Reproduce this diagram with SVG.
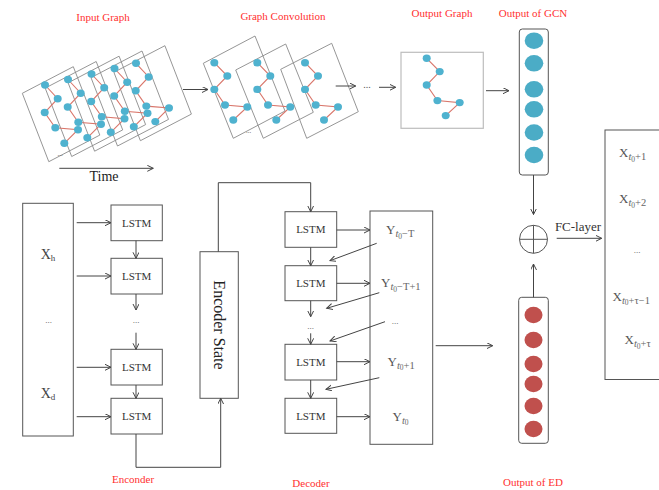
<svg xmlns="http://www.w3.org/2000/svg" width="659" height="490" viewBox="0 0 659 490">
<defs>
<style>
text{font-family:"Liberation Serif","DejaVu Serif",serif;}
.lbl{fill:#ff3030;font-size:11px;text-anchor:middle;}
.frame{fill:none;stroke:#8a8a8a;stroke-width:0.9;}
.edge{fill:none;stroke:#d9766b;stroke-width:1.1;}
.gn{fill:#4fb2cf;}
.box{fill:#fff;stroke:#555;stroke-width:1;}
.conn{fill:none;stroke:#444;stroke-width:1;}
.lstm{font-size:11px;fill:#333;text-anchor:middle;}
.var{font-size:14px;fill:#444;text-anchor:middle;}
.sub{font-size:10.5px;fill:#666;}
.bc{fill:#4bacc6;}
.rc{fill:#c0504d;}
.dots{font-size:9px;fill:#555;text-anchor:middle;}
</style>
<marker id="arr" markerWidth="8" markerHeight="8" refX="6" refY="3" orient="auto" markerUnits="userSpaceOnUse">
<path d="M0,0 L6,3 L0,6" fill="none" stroke="#444" stroke-width="1"/>
</marker>
<g id="ig">
<polyline class="edge" points="0,0 12.7,13.7 -0.3,27.5 10.3,42.8 33,44.7 19.3,58.3"/>
<ellipse class="gn" cx="0" cy="0" rx="4" ry="3.7"/>
<ellipse class="gn" cx="12.7" cy="13.7" rx="4" ry="3.7"/>
<ellipse class="gn" cx="-0.3" cy="27.5" rx="4" ry="3.7"/>
<ellipse class="gn" cx="10.3" cy="42.8" rx="4" ry="3.7"/>
<ellipse class="gn" cx="33" cy="44.7" rx="4" ry="3.7"/>
<ellipse class="gn" cx="19.3" cy="58.3" rx="4" ry="3.7"/>
</g>
<g id="gg">
<polyline class="edge" points="0,0 13,13.3 0,26.7 10.7,42.3 33,44.3 19,57.3"/>
<ellipse class="gn" cx="0" cy="0" rx="4" ry="3.7"/>
<ellipse class="gn" cx="13" cy="13.3" rx="4" ry="3.7"/>
<ellipse class="gn" cx="0" cy="26.7" rx="4" ry="3.7"/>
<ellipse class="gn" cx="10.7" cy="42.3" rx="4" ry="3.7"/>
<ellipse class="gn" cx="33" cy="44.3" rx="4" ry="3.7"/>
<ellipse class="gn" cx="19" cy="57.3" rx="4" ry="3.7"/>
</g>
</defs>
<rect width="659" height="490" fill="#fff"/>

<!-- labels -->
<g id="labels">
<text class="lbl" x="103" y="21">Input Graph</text>
<text class="lbl" x="283" y="19.5">Graph Convolution</text>
<text class="lbl" x="442" y="17">Output Graph</text>
<text class="lbl" x="533" y="17">Output of GCN</text>
<text class="lbl" x="133" y="483">Enconder</text>
<text class="lbl" x="311" y="487">Decoder</text>
<text class="lbl" x="533" y="486">Output of ED</text>
</g>

<!-- Input graph -->
<g id="input-graph">
<polygon class="frame" points="22.3,93.3 73.3,66.7 99.8,135.1 48.8,161.7"/>
<polygon class="frame" points="45.2,88.1 96.2,61.5 122.7,129.9 71.7,156.5"/>
<polygon class="frame" points="68.1,82.8 119.1,56.2 145.6,124.6 94.6,151.2"/>
<polygon class="frame" points="91,77.6 142,51 168.5,119.4 117.5,146"/>
<polygon class="frame" points="113.9,72.3 164.9,45.7 191.4,114.1 140.4,140.7"/>
<use href="#ig" x="45" y="85"/>
<use href="#ig" x="68" y="79.5"/>
<use href="#ig" x="91.5" y="74"/>
<use href="#ig" x="114.5" y="68.5"/>
<use href="#ig" x="136" y="63.3"/>
<text class="dots" x="60" y="156" style="font-size:7px">...</text>
<text x="104" y="180.5" style="font-size:14px;fill:#222;text-anchor:middle">Time</text>
</g>

<!-- Graph convolution -->
<g id="graph-conv">
<polygon class="frame" points="203.3,63.3 255,36 285,111 233.3,138.3"/>
<polygon class="frame" points="235.7,70 285.7,44 313.3,112.3 263.3,138.3"/>
<polygon class="frame" points="280.7,69.3 331.7,43.3 358.3,111.7 306.7,138.3"/>
<use href="#gg" x="214.3" y="62.7"/>
<use href="#gg" x="257.3" y="62.7"/>
<use href="#gg" x="305" y="62.7"/>
<text class="dots" x="248.5" y="133" style="font-size:7px">...</text>
<text class="dots" x="367" y="88" style="font-size:10px">...</text>
</g>

<!-- Output graph -->
<g id="output-graph">
<rect x="401" y="52.3" width="82.3" height="76" fill="none" stroke="#bdbdbd" stroke-width="1.2"/>
<use href="#gg" x="426.7" y="58.3"/>
</g>

<!-- Output of GCN -->
<g id="gcn-out">
<rect x="519.3" y="29" width="29" height="146" rx="3" class="box"/>
<ellipse class="bc" cx="534" cy="40.7" rx="9.3" ry="8.3"/>
<ellipse class="bc" cx="534" cy="63.3" rx="9.3" ry="8.3"/>
<ellipse class="bc" cx="534" cy="89.3" rx="9.3" ry="8.3"/>
<ellipse class="bc" cx="534" cy="109.3" rx="9.3" ry="8.3"/>
<ellipse class="bc" cx="534" cy="132.5" rx="9.3" ry="8.3"/>
<ellipse class="bc" cx="534" cy="155" rx="9.3" ry="8.3"/>
</g>

<!-- Sum -->
<g id="sum">
<circle cx="533.5" cy="239.3" r="14" fill="#fff" stroke="#555" stroke-width="1"/>
<line x1="519.5" y1="239.3" x2="547.5" y2="239.3" stroke="#555"/>
<line x1="533.5" y1="225.3" x2="533.5" y2="253.3" stroke="#555"/>
<text x="578" y="231" style="font-size:13px;fill:#333;text-anchor:middle">FC-layer</text>
</g>

<!-- Output of ED -->
<g id="ed-out">
<rect x="518.7" y="297.3" width="29.6" height="146" rx="3" class="box"/>
<ellipse class="rc" cx="533.5" cy="315" rx="9" ry="8.3"/>
<ellipse class="rc" cx="533.5" cy="340" rx="9" ry="8.3"/>
<ellipse class="rc" cx="533.5" cy="364" rx="9" ry="8.3"/>
<ellipse class="rc" cx="533.5" cy="384" rx="9" ry="8.3"/>
<ellipse class="rc" cx="533.5" cy="406" rx="9" ry="8.3"/>
<ellipse class="rc" cx="533.5" cy="429" rx="9" ry="8.3"/>
</g>

<!-- Final output -->
<g id="final-out">
<rect x="605" y="130" width="70" height="249.5" class="box"/>
<text x="619" y="157" style="font-size:13px;fill:#555">X<tspan class="sub" dy="3" font-style="italic">t</tspan><tspan class="sub" style="font-size:7.5px" dy="1.5">0</tspan><tspan class="sub" dy="-1.5">+1</tspan></text>
<text x="619" y="203" style="font-size:13px;fill:#555">X<tspan class="sub" dy="3" font-style="italic">t</tspan><tspan class="sub" style="font-size:7.5px" dy="1.5">0</tspan><tspan class="sub" dy="-1.5">+2</tspan></text>
<text class="dots" x="637" y="253" style="font-size:9px">...</text>
<text x="612.5" y="300.5" style="font-size:13px;fill:#555">X<tspan class="sub" dy="3" font-style="italic">t</tspan><tspan class="sub" style="font-size:7.5px" dy="1.5">0</tspan><tspan class="sub" dy="-1.5">+τ−1</tspan></text>
<text x="624.5" y="344" style="font-size:13px;fill:#555">X<tspan class="sub" dy="3" font-style="italic">t</tspan><tspan class="sub" style="font-size:7.5px" dy="1.5">0</tspan><tspan class="sub" dy="-1.5">+τ</tspan></text>
</g>

<!-- Encoder -->
<g id="enc-input">
<rect x="22.7" y="203.3" width="50.6" height="232.7" class="box"/>
<text class="var" x="48" y="259">X<tspan style="font-size:9px" dy="2">h</tspan></text>
<text class="dots" x="48.5" y="323">...</text>
<text class="var" x="48" y="398">X<tspan style="font-size:9px" dy="2">d</tspan></text>
</g>
<g id="enc-lstm1"><rect x="111" y="205" width="51.3" height="35.7" class="box"/><text class="lstm" x="136.6" y="226.5">LSTM</text></g>
<g id="enc-lstm2"><rect x="111" y="258.3" width="51.3" height="35.7" class="box"/><text class="lstm" x="136.6" y="279.8">LSTM</text></g>
<g id="enc-lstm3"><rect x="111" y="349.3" width="51.3" height="35.7" class="box"/><text class="lstm" x="136.6" y="370.8">LSTM</text></g>
<g id="enc-lstm4"><rect x="111" y="398.3" width="51.3" height="35.7" class="box"/><text class="lstm" x="136.6" y="419.8">LSTM</text></g>
<text class="dots" x="136" y="323">...</text>

<g id="enc-state">
<rect x="200" y="251.7" width="38.3" height="146.6" class="box"/>
<text transform="translate(219,325) rotate(90)" style="font-size:16px;fill:#222;text-anchor:middle" dy="5.5">Encoder State</text>
</g>

<!-- Decoder -->
<g id="dec-lstm1"><rect x="285" y="211.7" width="51.7" height="35.6" class="box"/><text class="lstm" x="310.8" y="233.3">LSTM</text></g>
<g id="dec-lstm2"><rect x="285" y="265.7" width="51.7" height="35" class="box"/><text class="lstm" x="310.8" y="287">LSTM</text></g>
<g id="dec-lstm3"><rect x="285" y="344.3" width="51.7" height="35.7" class="box"/><text class="lstm" x="310.8" y="365.8">LSTM</text></g>
<g id="dec-lstm4"><rect x="285" y="398.3" width="51.7" height="35" class="box"/><text class="lstm" x="310.8" y="419.6">LSTM</text></g>
<text class="dots" x="310.7" y="329">...</text>

<g id="dec-out">
<rect x="370" y="211" width="62.7" height="233.3" class="box"/>
<text x="386" y="234" style="font-size:13px;fill:#555">Y<tspan class="sub" dy="3" font-style="italic">t</tspan><tspan class="sub" style="font-size:7.5px" dy="1.5">0</tspan><tspan class="sub" dy="-1.5">−T</tspan></text>
<text x="381" y="287" style="font-size:13px;fill:#555">Y<tspan class="sub" dy="3" font-style="italic">t</tspan><tspan class="sub" style="font-size:7.5px" dy="1.5">0</tspan><tspan class="sub" dy="-1.5">−T+1</tspan></text>
<text class="dots" x="395" y="324">...</text>
<text x="387.5" y="365.5" style="font-size:13px;fill:#555">Y<tspan class="sub" dy="3" font-style="italic">t</tspan><tspan class="sub" style="font-size:7.5px" dy="1.5">0</tspan><tspan class="sub" dy="-1.5">+1</tspan></text>
<text x="392.5" y="420.5" style="font-size:13px;fill:#555">Y<tspan class="sub" dy="3" font-style="italic">t</tspan><tspan class="sub" style="font-size:7.5px" dy="1.5">0</tspan></text>
</g>

<!-- Connectors -->
<g id="connectors" class="conn" marker-end="url(#arr)">
<line x1="183" y1="89.5" x2="208" y2="89.5"/>
<line x1="335.7" y1="86" x2="355.7" y2="86"/>
<line x1="379" y1="87.3" x2="395.7" y2="87.3"/>
<line x1="486" y1="90.7" x2="509" y2="90.7"/>
<line x1="59.3" y1="168.3" x2="153.3" y2="168.3"/>
<line x1="533.5" y1="175" x2="533.5" y2="214.5"/>
<line x1="533.5" y1="297.3" x2="533.5" y2="264"/>
<line x1="556.7" y1="238.3" x2="601.7" y2="238.3"/>
<line x1="435.7" y1="345.7" x2="492.7" y2="345.7"/>
<line x1="76.7" y1="222.7" x2="111" y2="222.7"/>
<line x1="76.7" y1="276" x2="111" y2="276"/>
<line x1="76.7" y1="367.3" x2="111" y2="367.3"/>
<line x1="76.7" y1="416.7" x2="111" y2="416.7"/>
<line x1="136" y1="240.7" x2="136" y2="258.3"/>
<line x1="136" y1="294" x2="136" y2="310"/>
<line x1="136" y1="332.7" x2="136" y2="349.3"/>
<line x1="136" y1="385" x2="136" y2="398.3"/>
<polyline points="136,434 136,467.3 220.7,467.3 220.7,398.3"/>
<polyline points="218.3,251.7 218.3,182.7 310.7,182.7 310.7,211.7"/>
<line x1="336.7" y1="230" x2="370" y2="230"/>
<line x1="336.7" y1="283.3" x2="370" y2="283.3"/>
<line x1="336.7" y1="361.7" x2="370" y2="361.7"/>
<line x1="336.7" y1="416.7" x2="370" y2="416.7"/>
<line x1="310.7" y1="247.3" x2="310.7" y2="265.7"/>
<line x1="310.7" y1="300.7" x2="310.7" y2="316.7"/>
<line x1="310.7" y1="333.3" x2="310.7" y2="344.3"/>
<line x1="310.7" y1="380" x2="310.7" y2="398.3"/>
<line x1="376.7" y1="243.3" x2="330" y2="260.7"/>
<line x1="379.3" y1="292.7" x2="326.7" y2="308.3"/>
<line x1="385" y1="321.7" x2="330" y2="341"/>
<line x1="379.3" y1="377.7" x2="326" y2="389.3"/>
</g>
</svg>
